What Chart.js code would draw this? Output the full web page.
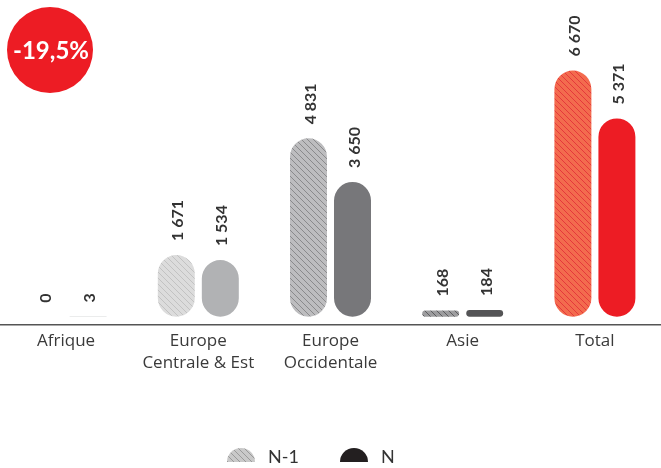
<!DOCTYPE html>
<html>
<head>
<meta charset="utf-8">
<script src="https://cdn.jsdelivr.net/npm/chart.js@4"></script>
<style>
  html, body { margin: 0; padding: 0; background: #fff; }
  #wrap { width: 661px; height: 468px; position: relative; }
</style>
</head>
<body>
<div id="wrap"><canvas id="regionChart"></canvas></div>
<script>
// data
const categories = [['Afrique'], ['Europe', 'Centrale & Est'], ['Europe', 'Occidentale'], ['Asie'], ['Total']];
const seriesNames = ['N-1', 'N'];
const valuesPrev = [0, 1671, 4831, 168, 6670];
const valuesCurr = [3, 1534, 3650, 184, 5371];
const changeLabel = '-19,5%';

// colours per category (N-1 is hatched)
const prevBase = ['#dcdcdc', '#dcdcdc', '#bdbdbf', '#9d9d9f', '#f36b4e'];
const prevLine = ['#c2c2c2', '#c2c2c2', '#8a8a8c', '#5c5c5e', '#e5383b'];
const currColors = ['#b1b2b4', '#b1b2b4', '#77777a', '#545456', '#ed1c24'];

const FONT = 'Lato, "Open Sans", sans-serif';
const TICK_FONT = '"Open Sans", Lato, sans-serif';

function hatch(base, line) {
    const c = document.createElement('canvas');
    c.width = 6; c.height = 6;
    const x = c.getContext('2d');
    x.fillStyle = base;
    x.fillRect(0, 0, 6, 6);
    x.strokeStyle = line;
    x.lineWidth = 1;
    x.beginPath();
    x.moveTo(-1, -1); x.lineTo(7, 7);
    x.moveTo(-1, 5); x.lineTo(1, 7);
    x.moveTo(5, -1); x.lineTo(7, 1);
    x.stroke();
    return x.createPattern(c, 'repeat');
}

function fmt(v) {
    return String(v).replace(/\B(?=(\d{3})+(?!\d))/g, ' ');
}

// rotated value labels above each bar
const valueLabels = {
    id: 'valueLabels',
    afterDatasetsDraw(chart) {
        const ctx = chart.ctx;
        ctx.save();
        ctx.font = 'bold 16px ' + FONT;
        ctx.fillStyle = '#333333';
        ctx.textAlign = 'left';
        ctx.textBaseline = 'middle';
        chart.data.datasets.forEach((ds, i) => {
            chart.getDatasetMeta(i).data.forEach((bar, j) => {
                ctx.save();
                ctx.translate(bar.x + 2, bar.y - 14);
                ctx.rotate(-Math.PI / 2);
                ctx.fillText(fmt(ds.data[j]), 0, 0);
                ctx.restore();
            });
        });
        ctx.restore();
    }
};

// red badge + legend at the bottom
const extras = {
    id: 'extras',
    afterDraw(chart) {
        const ctx = chart.ctx;
        ctx.save();
        ctx.fillStyle = '#ed1c24';
        ctx.beginPath();
        ctx.arc(50, 50, 43, 0, Math.PI * 2);
        ctx.fill();
        ctx.fillStyle = '#ffffff';
        ctx.font = 'bold 24px ' + FONT;
        ctx.textAlign = 'center';
        ctx.textBaseline = 'middle';
        ctx.fillText(changeLabel, 51, 51);

        // legend
        const items = [
            { x: 241, fill: hatch('#c9c9c9', '#9a9a9a') },
            { x: 354, fill: '#231f20' }
        ];
        ctx.font = '18px ' + FONT;
        ctx.textAlign = 'left';
        ctx.textBaseline = 'alphabetic';
        items.forEach((it, i) => {
            ctx.fillStyle = it.fill;
            ctx.beginPath();
            ctx.arc(it.x, 462, 14, Math.PI, 0);
            ctx.closePath();
            ctx.fill();
            ctx.fillStyle = '#333333';
            ctx.fillText(chart.data.datasets[i].label, it.x + 27, 463);
        });
        ctx.restore();
    }
};

const ctx = document.getElementById('regionChart').getContext('2d');
const regionChart = new Chart(ctx, {
    type: 'bar',
    data: {
        labels: categories,
        datasets: [
            {
                label: seriesNames[0],
                data: valuesPrev,
                backgroundColor: prevBase.map((b, i) => hatch(b, prevLine[i])),
                borderRadius: 19,
                borderSkipped: false
            },
            {
                label: seriesNames[1],
                data: valuesCurr,
                backgroundColor: currColors,
                borderRadius: 19,
                borderSkipped: false
            }
        ]
    },
    options: {
        responsive: true,
        maintainAspectRatio: false,
        animation: false,
        layout: { padding: { top: 20, bottom: 89, left: 0, right: 0 } },
        categoryPercentage: 0.666,
        barPercentage: 0.84,
        plugins: {
            legend: { display: false },
            tooltip: { enabled: false }
        },
        scales: {
            x: {
                grid: { display: false, drawTicks: false },
                border: { display: true, color: '#555555', width: 1.5 },
                ticks: {
                    padding: 5,
                    color: '#3a3a3a',
                    font: { family: TICK_FONT, size: 17, lineHeight: 1.3 }
                }
            },
            y: {
                display: false,
                min: -219,
                max: 8037
            }
        }
    },
    plugins: [valueLabels, extras]
});
</script>
</body>
</html>
